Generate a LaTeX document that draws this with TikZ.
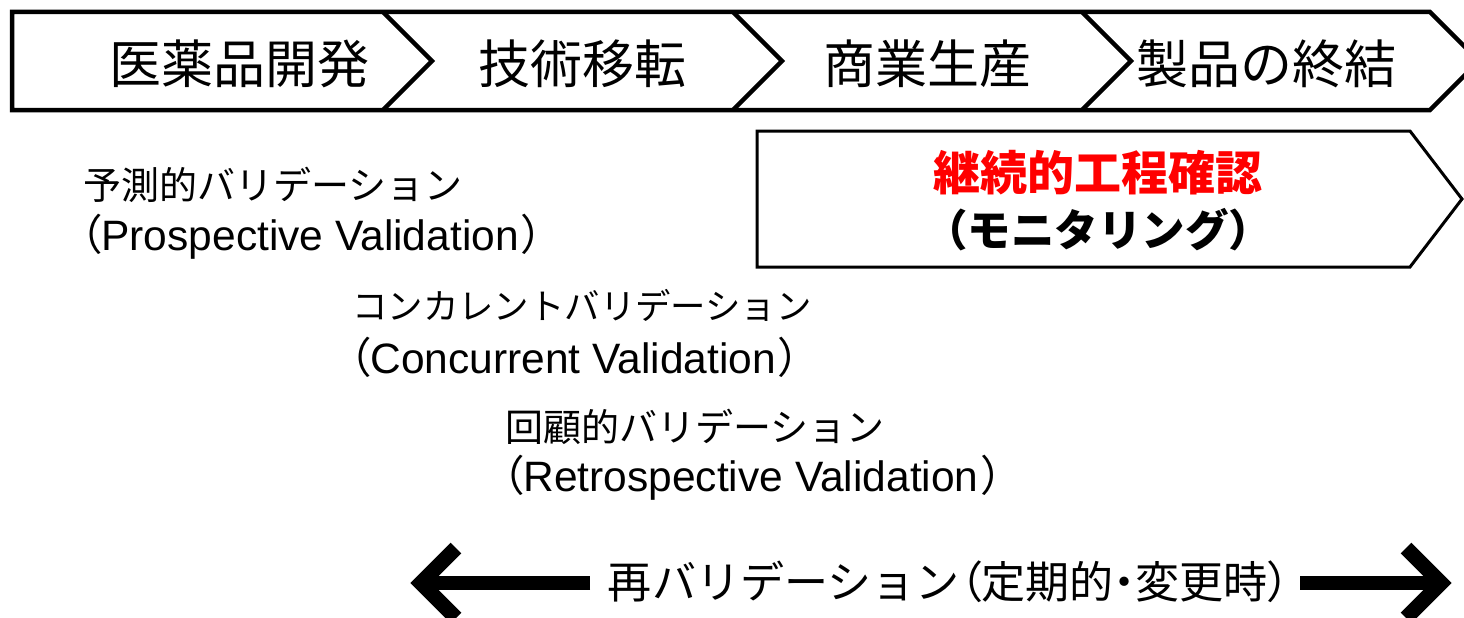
\documentclass[tikz,border=0pt]{standalone}
\usepackage{fontspec}
\setmainfont{Liberation Sans}
\newfontfamily\jp{Noto Sans CJK JP}
\newfontfamily\jpp[RawFeature=+palt]{Noto Sans CJK JP}
\newfontfamily\latin{Liberation Sans}
\begin{document}
\begin{tikzpicture}[x=1pt,y=-1pt,
  bar/.style={line width=4.5pt, line join=miter},
  stage/.style={font=\jp\fontsize{52}{52}\selectfont, inner sep=0pt},
  lbl/.style={font=\jp\fontsize{38}{44}\selectfont, inner sep=0pt, anchor=west},
  lat/.style={font=\latin\fontsize{42.5}{44}\selectfont, inner sep=0pt, anchor=west},
  mon/.style={line width=3pt, line join=miter},
  bigarrow/.style={line width=15pt, line join=miter},
  shaft/.style={line width=14pt}
]
\useasboundingbox (0,0) rectangle (1464,618);
\begin{scope}
\clip (0,0) rectangle (1464,618);
% top chevron bar
\draw[bar] (12,12) -- (1430,12) -- (1479,61) -- (1430,110) -- (12,110) -- cycle;
\foreach \x in {383,733,1082} {
  \draw[bar] (\x,12) -- (\x+49,61) -- (\x,110);
}
\node[stage] (s1) at (239,64) {医薬品開発};
\node[stage] (s2) at (582,64) {技術移転};
\node[stage] (s3) at (927,64) {商業生産};
\node[stage] (s4) at (1266,64) {製品の終結};
% monitoring box
\draw[mon] (757,131) -- (1410,131) -- (1462,199) -- (1410,267) -- (757,267) -- cycle;
\end{scope}
\node[font=\jp\bfseries\fontsize{47}{47}\selectfont, text=red, inner sep=0pt] (m1) at (1098,173) {継続的工程確認};
\node[font=\jp\bfseries\fontsize{43.5}{43.5}\selectfont, inner sep=0pt] (m2) at (1098,230) {（モニタリング）};
% validation labels
\node[lbl] (p1) at (83,185) {予測的バリデーション};
\node[lat] (p2) at (80,237) {{\jpp （}Prospective Validation\hspace{3pt}{\jpp ）}};
\node[lbl, font=\jp\fontsize{35.4}{44}\selectfont] (c1) at (352,305) {コンカレントバリデーション};
\node[lat] (c2) at (349,357) {{\jpp （}Concurrent Validation\hspace{3pt}{\jpp ）}};
\node[lbl] (r1) at (505,427) {回顧的バリデーション};
\node[lat] (r2) at (502,478) {{\jpp （}Retrospective Validation\hspace{3pt}{\jpp ）}};
% revalidation
\node[font=\jp\fontsize{44}{44}\selectfont, inner sep=0pt] (re) at (949,582) {\resizebox{682pt}{!}{再バリデーション{\jpp （}定期的{\jpp ・}変更時{\jpp ）}}};
\coordinate (ltip) at (421,583);
\coordinate (ltail) at (590,583);
\coordinate (rtip) at (1441,583);
\coordinate (rtail) at (1300,583);
\draw[shaft] (ltail) -- (ltip);
\draw[bigarrow] (456,548) -- (ltip) -- (456,618);
\draw[shaft] (rtail) -- (rtip);
\draw[bigarrow] (1406,548) -- (rtip) -- (1406,618);
\end{tikzpicture}
\end{document}
